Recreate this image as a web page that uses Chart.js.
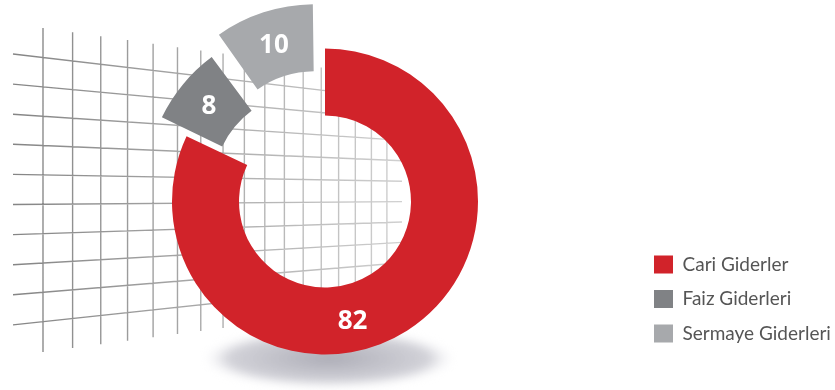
<!DOCTYPE html>
<html>
<head>
<meta charset="utf-8">
<script src="https://cdn.jsdelivr.net/npm/chart.js@4.4.1/dist/chart.umd.min.js"></script>
<style>
  html, body { margin: 0; padding: 0; background: #fff; }
  #wrap { width: 835px; height: 390px; position: relative; }
</style>
</head>
<body>
<div id="wrap"><canvas id="gider"></canvas></div>
<script>
const kalemler = ['Cari Giderler', 'Faiz Giderleri', 'Sermaye Giderleri'];
const paylar = [82, 8, 10];
const renkler = ['#d1232a', '#808285', '#a7a9ac'];
const ayrilma = [0, 82, 130]; // dilimlerin dışarı kayması (Chart.js offset)

// arkadaki perspektif ızgara + halkanın altındaki gölge
const zeminPlugin = {
  id: 'zemin',
  beforeDatasetsDraw(chart) {
    const arc = chart.getDatasetMeta(0).data[0];
    if (!arc) return;
    const { x: cx, y: cy, outerRadius: R } = arc.getProps(['x', 'y', 'outerRadius'], true);
    const ctx = chart.ctx;

    const vx = cx + 895, vy = cy - 6;   // kaçış noktası
    const xl = cx - 312, xr = cx + 77;  // yatay çizgilerin uçları
    const x0 = cx - 282;                // ilk dikey çizgi
    const yUst = cy - 173.5, yAlt = cy + 150.5;

    ctx.save();
    const g = ctx.createLinearGradient(xl, 0, xr, 0);
    g.addColorStop(0, '#858585');
    g.addColorStop(1, '#d0d0d0');
    ctx.strokeStyle = g;
    ctx.lineWidth = 1.4;
    ctx.beginPath();
    for (let j = 0; j < 10; j++) {
      const yl = cy - 147.5 + 30.1 * j;
      const k = (vy - yl) / (vx - xl);
      ctx.moveTo(xl, yl);
      ctx.lineTo(xr, yl + k * (xr - xl));
    }
    for (let i = 0; i < 17; i++) {
      const x = vx - (vx - x0) / (1 + 0.0258 * i);
      const t = (x - x0) / (vx - x0);
      ctx.moveTo(x, yUst + (vy - yUst) * t);
      ctx.lineTo(x, yAlt + (vy - yAlt) * t);
    }
    ctx.stroke();
    ctx.restore();

    // gölge
    ctx.save();
    ctx.filter = 'blur(4px)';
    ctx.translate(cx + 4, cy + R + 4);
    ctx.scale(1, 0.23);
    const rg = ctx.createRadialGradient(0, 0, 0, 0, 0, R * 0.82);
    rg.addColorStop(0, 'rgba(172,172,182,1)');
    rg.addColorStop(0.8, 'rgba(205,205,212,0.9)');
    rg.addColorStop(1, 'rgba(240,240,244,0)');
    ctx.fillStyle = rg;
    ctx.beginPath();
    ctx.arc(0, 0, R * 0.82, 0, Math.PI * 2);
    ctx.fill();
    ctx.restore();
  }
};

// dilim üzerindeki değer yazıları
const degerPlugin = {
  id: 'degerEtiketi',
  afterDatasetsDraw(chart, args, opts) {
    const ctx = chart.ctx;
    const meta = chart.getDatasetMeta(0);
    ctx.save();
    ctx.font = opts.font;
    ctx.fillStyle = opts.color;
    ctx.textAlign = 'center';
    ctx.textBaseline = 'middle';
    meta.data.forEach((arc, i) => {
      const p = arc.getProps(['x', 'y', 'startAngle', 'endAngle', 'innerRadius', 'outerRadius', 'circumference'], true);
      const off = (arc.options.offset || 0) / 4;
      const fix = 1 - Math.sin(Math.min(Math.PI, p.circumference));
      let aci = (p.startAngle + p.endAngle) / 2;
      let r = (p.innerRadius + p.outerRadius) / 2 + off * (1 + fix);
      if (opts.aci[i] != null) {
        aci = (opts.aci[i] - 90) * Math.PI / 180;
        r += 3;
      }
      ctx.fillText(String(chart.data.datasets[0].data[i]), p.x + Math.cos(aci) * r, p.y + Math.sin(aci) * r + 1);
    });
    ctx.restore();
  }
};

new Chart(document.getElementById('gider'), {
  type: 'doughnut',
  data: {
    labels: kalemler,
    datasets: [{
      data: paylar,
      backgroundColor: renkler,
      borderWidth: 0,
      offset: ayrilma,
      hoverOffset: 0
    }]
  },
  options: {
    responsive: true,
    maintainAspectRatio: false,
    animation: false,
    radius: 153,
    cutout: '56.2%',
    layout: { padding: { top: 44.5, bottom: 31.5, left: 11.5, right: 0 } },
    plugins: {
      legend: {
        position: 'right',
        align: 'end',
        maxWidth: 196.5,
        labels: {
          boxWidth: 19,
          boxHeight: 18,
          padding: 15.5,
          color: '#555',
          font: { family: 'Lato', size: 19 }
        }
      },
      tooltip: { enabled: false },
      degerEtiketi: { font: 'bold 26px "Open Sans"', color: '#fff', aci: [167, null, null] }
    }
  },
  plugins: [zeminPlugin, degerPlugin]
});
</script>
</body>
</html>
